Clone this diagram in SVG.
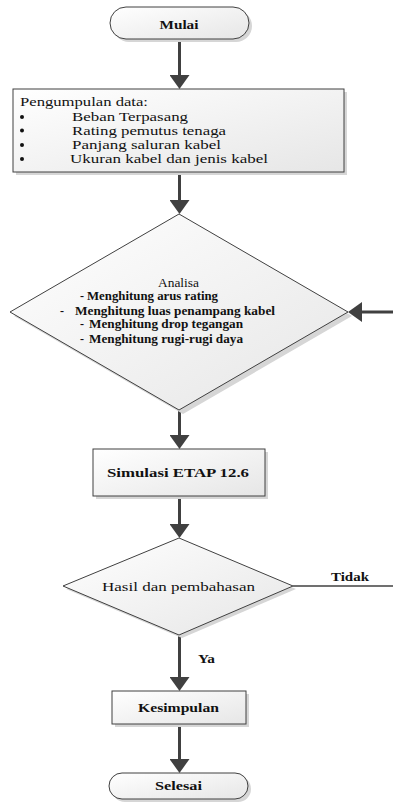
<svg xmlns="http://www.w3.org/2000/svg" width="393" height="802" viewBox="0 0 393 802">
<defs>
<linearGradient id="g" x1="0" y1="0" x2="1" y2="1">
<stop offset="0" stop-color="#ffffff"/>
<stop offset="1" stop-color="#e6e6e6"/>
</linearGradient>
<marker id="ah" markerUnits="userSpaceOnUse" markerWidth="14" markerHeight="20" refX="2" refY="10" orient="auto" viewBox="0 0 14 20">
<path d="M0,0 L14,10 L0,20 Z" fill="#404040"/>
</marker>
<style>
.sh{fill:#d6d6d6;stroke:none}
.nd{fill:url(#g);stroke:#404040;stroke-width:1}
text{font-family:'Liberation Serif','DejaVu Serif','Times New Roman',serif;font-size:12.5px;fill:#111}
.b{font-weight:bold}
.c{text-anchor:middle}
.s12{font-size:12px}
.cn{stroke:#404040;stroke-width:3;fill:none}
.thin{stroke:#404040;stroke-width:1.5;fill:none}
</style>
</defs>
<rect width="393" height="802" fill="#ffffff"/>

<g id="connectors">
<line class="cn" x1="179.5" y1="39" x2="179.5" y2="77" marker-end="url(#ah)"/>
<line class="cn" x1="179.5" y1="172" x2="179.5" y2="202" marker-end="url(#ah)"/>
<line class="cn" x1="179.5" y1="410" x2="179.5" y2="437" marker-end="url(#ah)"/>
<line class="cn" x1="179.5" y1="496" x2="179.5" y2="526" marker-end="url(#ah)"/>
<line class="cn" x1="179.5" y1="635" x2="179.5" y2="679" marker-end="url(#ah)"/>
<line class="cn" x1="179.5" y1="724" x2="179.5" y2="761" marker-end="url(#ah)"/>
<line class="cn" x1="393" y1="312" x2="360" y2="312" marker-end="url(#ah)"/>
<line class="thin" x1="293" y1="586" x2="393" y2="586"/>
<text class="b" x="331" y="581" textLength="38" lengthAdjust="spacingAndGlyphs">Tidak</text>
<text class="b" x="198" y="663" textLength="17" lengthAdjust="spacingAndGlyphs">Ya</text>
</g>

<g id="mulai">
<rect class="sh" x="113" y="10" width="139" height="32" rx="16"/>
<rect class="nd" x="110" y="7" width="139" height="32" rx="16"/>
<text class="b c" x="179" y="29" textLength="39" lengthAdjust="spacingAndGlyphs">Mulai</text>
</g>

<g id="pengumpulan">
<rect class="sh" x="16" y="92" width="331" height="83"/>
<rect class="nd" x="13" y="89" width="331" height="83"/>
<text x="20" y="106" textLength="128" lengthAdjust="spacingAndGlyphs">Pengumpulan data:</text>
<circle cx="22" cy="117" r="2" fill="#111"/>
<circle cx="22" cy="130.5" r="2" fill="#111"/>
<circle cx="22" cy="145" r="2" fill="#111"/>
<circle cx="22" cy="159" r="2" fill="#111"/>
<text x="72" y="121" textLength="116" lengthAdjust="spacingAndGlyphs">Beban Terpasang</text>
<text x="72" y="134.5" textLength="154" lengthAdjust="spacingAndGlyphs">Rating pemutus tenaga</text>
<text x="72" y="149" textLength="149" lengthAdjust="spacingAndGlyphs">Panjang saluran kabel</text>
<text x="70" y="163" textLength="198" lengthAdjust="spacingAndGlyphs">Ukuran kabel dan jenis kabel</text>
</g>

<g id="analisa">
<polygon class="sh" points="183,218 352,316 183,414 14,316"/>
<polygon class="nd" points="179,214 348,312 179,410 10,312"/>
<text class="c s12" x="178.5" y="287" textLength="41" lengthAdjust="spacingAndGlyphs">Analisa</text>
<text class="b s12" x="80" y="300">-</text>
<text class="b s12" x="87" y="300" textLength="131" lengthAdjust="spacingAndGlyphs">Menghitung arus rating</text>
<text class="b s12" x="60" y="315">-</text>
<text class="b s12" x="75" y="315" textLength="200" lengthAdjust="spacingAndGlyphs">Menghitung luas penampang kabel</text>
<text class="b s12" x="80" y="328">-</text>
<text class="b s12" x="89" y="328" textLength="154" lengthAdjust="spacingAndGlyphs">Menghitung drop tegangan</text>
<text class="b s12" x="80" y="343">-</text>
<text class="b s12" x="89" y="343" textLength="154" lengthAdjust="spacingAndGlyphs">Menghitung rugi-rugi daya</text>
</g>

<g id="simulasi">
<rect class="sh" x="96" y="452" width="172" height="47"/>
<rect class="nd" x="93" y="449" width="172" height="47"/>
<text class="b c" x="178" y="477" textLength="142" lengthAdjust="spacingAndGlyphs">Simulasi ETAP 12.6</text>
</g>

<g id="hasil">
<polygon class="sh" points="182,541 296,589 182,638 66,589"/>
<polygon class="nd" points="179,538 293,586 179,635 63,586"/>
<text class="c" x="178.5" y="591" textLength="153" lengthAdjust="spacingAndGlyphs">Hasil dan pembahasan</text>
</g>

<g id="kesimpulan">
<rect class="sh" x="115" y="694" width="134" height="33"/>
<rect class="nd" x="112" y="691" width="134" height="33"/>
<text class="b c" x="178.5" y="712" textLength="81" lengthAdjust="spacingAndGlyphs">Kesimpulan</text>
</g>

<g id="selesai">
<rect class="sh" x="112" y="776" width="139" height="26" rx="13"/>
<rect class="nd" x="109" y="773" width="139" height="26" rx="13"/>
<text class="b c" x="178.5" y="790" textLength="47" lengthAdjust="spacingAndGlyphs">Selesai</text>
</g>
</svg>
